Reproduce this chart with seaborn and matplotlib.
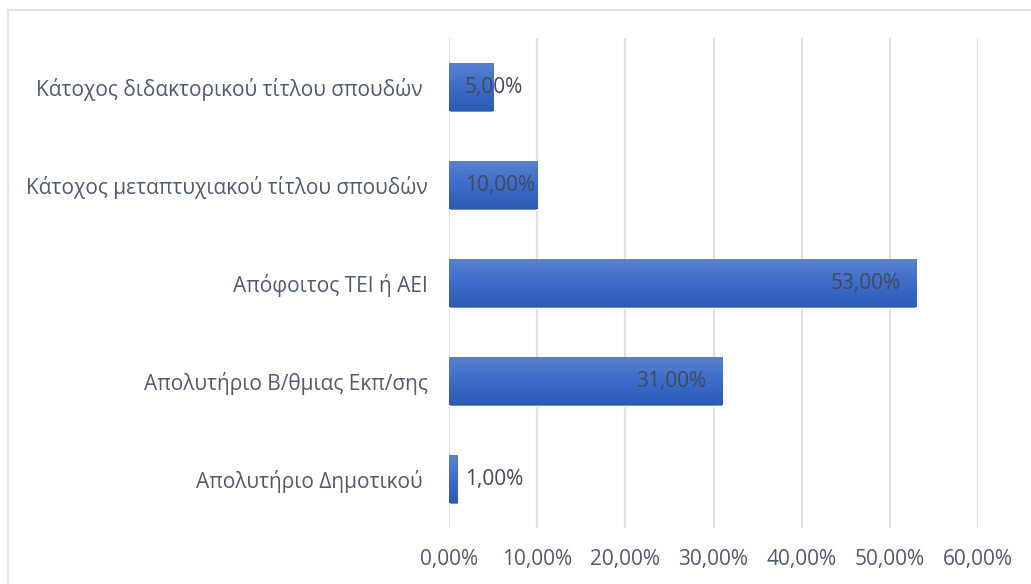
import numpy as np
import pandas as pd
import matplotlib
matplotlib.use("Agg")
import matplotlib.pyplot as plt
import matplotlib.patches as mpatches
import seaborn as sns

# Data (top to bottom as shown)
categories = [
    "Κάτοχος διδακτορικού τίτλου σπουδών ",
    "Κάτοχος μεταπτυχιακού τίτλου σπουδών",
    "Απόφοιτος ΤΕΙ ή ΑΕΙ",
    "Απολυτήριο Β/θμιας Εκπ/σης",
    "Απολυτήριο Δημοτικού ",
]
values = [5.0, 10.0, 53.0, 31.0, 1.0]
x_ticks = [0, 10, 20, 30, 40, 50, 60]

TEXT = "#4F5B6E"
GRID = "#DDE1E8"
FS = 15

sns.set_theme(style="white")
plt.rcParams["font.family"] = ["Open Sans", "DejaVu Sans"]

df = pd.DataFrame({"category": categories, "value": values})

fig = plt.figure(figsize=(10.31, 5.84), dpi=100)
ax = fig.add_axes([449 / 1031, 1 - 528 / 584, (978 - 449) / 1031, (528 - 38) / 584])

sns.barplot(data=df, y="category", x="value", orient="h", width=0.5,
            color="#3F6FC8", ax=ax, zorder=3)

ax.set_xlim(0, 60)
ax.set_xticks(x_ticks)
ax.set_xticklabels([f"{t:.2f}%".replace(".", ",") for t in x_ticks],
                   fontsize=FS, color=TEXT)
ax.tick_params(axis="y", labelsize=FS, labelcolor=TEXT, length=0, pad=15)
ax.tick_params(axis="x", length=0, pad=15)
ax.set_xlabel("")
ax.set_ylabel("")
ax.grid(axis="x", color=GRID, linewidth=1.6, zorder=0)
for s in ax.spines.values():
    s.set_visible(False)

# vertical gradient on each bar
grad = np.linspace(0, 1, 100).reshape(-1, 1)
cmap = matplotlib.colors.LinearSegmentedColormap.from_list(
    "bar", ["#5B83D0", "#3C6CC9", "#2C5BB6"])
for patch in ax.patches:
    x0, y0 = patch.get_x(), patch.get_y()
    w, h = patch.get_width(), patch.get_height()
    im = ax.imshow(grad, cmap=cmap, aspect="auto", zorder=4,
                   extent=[x0, x0 + w, y0 + h, y0], origin="upper")
    im.set_clip_path(patch)
ax.set_xlim(0, 60)
ax.set_ylim(4.5, -0.5)

# value labels
for i, v in enumerate(values):
    lbl = f"{v:.2f}%".replace(".", ",")
    if v < 15:
        ax.text(1.8, i, lbl, ha="left", va="center", fontsize=FS,
                color="#404A5A", zorder=5)
    else:
        ax.text(v - 1.8, i, lbl, ha="right", va="center", fontsize=FS,
                color="#404A5A", zorder=5)

# outer chart border
fig.patches.append(mpatches.Rectangle((8 / 1031, -0.05), 1.1, 1 - 10 / 584 + 0.05,
                                      transform=fig.transFigure, fill=False,
                                      edgecolor=GRID, linewidth=1.2))

fig.savefig("out.png", dpi=100)
